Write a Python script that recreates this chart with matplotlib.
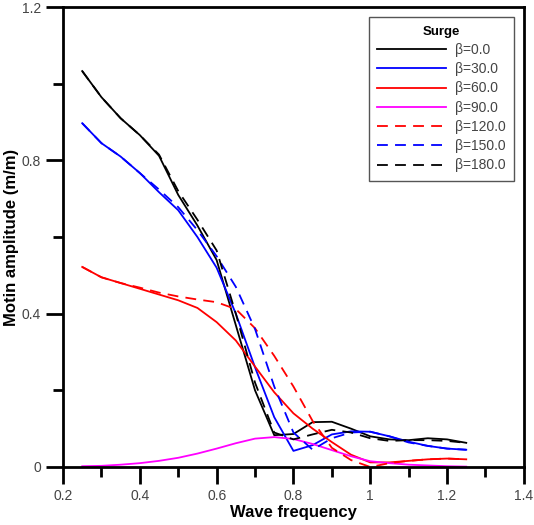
''' Surge motion amplitude vs wave frequency for several headings. '''
import matplotlib
matplotlib.use('Agg')
import matplotlib.pyplot as plt
from matplotlib.ticker import MultipleLocator

plt.rcParams['font.family'] = ['Liberation Sans', 'DejaVu Sans']

freq = [0.25, 0.30, 0.35, 0.40, 0.45, 0.50, 0.55, 0.60, 0.65, 0.70, 0.75,
        0.80, 0.85, 0.90, 0.95, 1.00, 1.05, 1.10, 1.15, 1.20, 1.25]

beta_0 = [1.033, 0.965, 0.910, 0.866, 0.812, 0.710, 0.630, 0.540, 0.370, 0.200, 0.083,
          0.086, 0.117, 0.118, 0.100, 0.080, 0.072, 0.070, 0.075, 0.072, 0.063]
beta_30 = [0.897, 0.845, 0.810, 0.767, 0.717, 0.670, 0.600, 0.520, 0.400, 0.260, 0.130,
           0.042, 0.057, 0.085, 0.093, 0.092, 0.080, 0.066, 0.055, 0.048, 0.045]
beta_60 = [0.522, 0.495, 0.480, 0.465, 0.450, 0.435, 0.415, 0.378, 0.330, 0.262, 0.195,
           0.140, 0.100, 0.065, 0.032, 0.012, 0.012, 0.016, 0.020, 0.022, 0.020]
beta_90 = [0.002, 0.003, 0.006, 0.010, 0.016, 0.024, 0.035, 0.048, 0.062, 0.074, 0.078,
           0.073, 0.060, 0.044, 0.028, 0.015, 0.010, 0.006, 0.004, 0.002, 0.001]
beta_120 = [0.522, 0.495, 0.480, 0.468, 0.455, 0.445, 0.437, 0.430, 0.412, 0.362, 0.290,
            0.210, 0.120, 0.050, 0.018, 0.000, 0.010, 0.016, 0.020, 0.022, 0.020]
beta_150 = [0.897, 0.845, 0.810, 0.767, 0.724, 0.678, 0.618, 0.550, 0.470, 0.360, 0.210,
            0.090, 0.045, 0.075, 0.090, 0.092, 0.080, 0.064, 0.055, 0.048, 0.045]
beta_180 = [1.033, 0.965, 0.910, 0.866, 0.815, 0.720, 0.645, 0.565, 0.400, 0.220, 0.090,
            0.072, 0.085, 0.097, 0.090, 0.075, 0.068, 0.070, 0.070, 0.068, 0.063]

labels = ['\u03b2=0.0', '\u03b2=30.0', '\u03b2=60.0', '\u03b2=90.0',
          '\u03b2=120.0', '\u03b2=150.0', '\u03b2=180.0']
series = [beta_0, beta_30, beta_60, beta_90, beta_120, beta_150, beta_180]
colors = ['black', '#0000ff', '#ff0000', '#ff00ff', '#ff0000', '#0000ff', 'black']
styles = ['-', '-', '-', '-', '--', '--', '--']

x_ticks = [0.2, 0.4, 0.6, 0.8, 1.0, 1.2, 1.4]
x_tick_labels = ['0.2', '0.4', '0.6', '0.8', '1', '1.2', '1.4']
y_ticks = [0, 0.4, 0.8, 1.2]
y_tick_labels = ['0', '0.4', '0.8', '1.2']

fig = plt.figure(figsize=(5.34, 5.25), dpi=100)
ax = fig.add_axes([0.118, 0.1105, 0.863, 0.876])

for y, lab, c, ls in zip(series, labels, colors, styles):
    line, = ax.plot(freq, y, color=c, linestyle=ls, linewidth=1.3, label=lab)
    if ls == '--':
        line.set_dashes((6, 4))

ax.set_xlim(0.2, 1.4)
ax.set_ylim(0, 1.2)
ax.set_xticks(x_ticks)
ax.set_xticklabels(x_tick_labels)
ax.set_yticks(y_ticks)
ax.set_yticklabels(y_tick_labels)
ax.xaxis.set_minor_locator(MultipleLocator(0.1))
ax.yaxis.set_minor_locator(MultipleLocator(0.2))

ax.tick_params(which='major', direction='out', length=12, width=2,
               labelsize=10, labelcolor='#444444', pad=4)
ax.tick_params(which='minor', direction='out', length=7, width=2)
for s in ax.spines.values():
    s.set_linewidth(2)

ax.set_xlabel('Wave frequency', fontsize=12, fontweight='bold', labelpad=1)
ax.set_ylabel('Motin amplitude (m/m)', fontsize=12, fontweight='bold', labelpad=2)

leg = ax.legend(loc='upper right', bbox_to_anchor=(0.978, 0.978), borderaxespad=0,
                title='Surge', fontsize=10, handlelength=5.0, handletextpad=0.6,
                labelspacing=0.38, fancybox=False, framealpha=1,
                edgecolor='#555555', borderpad=0.6)
leg.get_title().set_fontweight('bold')
leg.get_title().set_fontsize(9.5)
leg.get_frame().set_linewidth(1)
for t in leg.get_texts():
    t.set_color('#444444')

fig.savefig('out.png', dpi=100)
